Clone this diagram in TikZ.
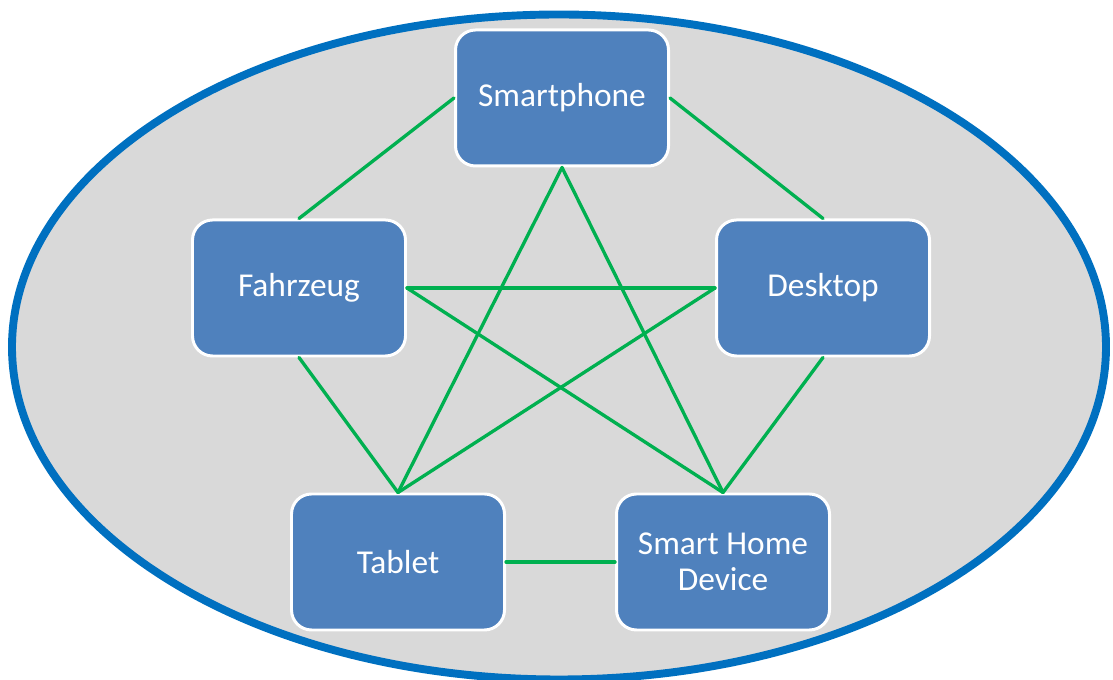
\documentclass[tikz,border=0pt]{standalone}
\usepackage{fontspec}
\setmainfont{Carlito}
\definecolor{ringblue}{HTML}{0070C0}
\definecolor{ringgray}{HTML}{D9D9D9}
\definecolor{boxblue}{HTML}{4F81BD}
\definecolor{linkgreen}{HTML}{00B050}
\begin{document}
\begin{tikzpicture}[x=1cm,y=1cm,line cap=round,line join=round,
  device/.style={draw=white,line width=1.7pt,fill=boxblue,rounded corners=0.4cm,
    minimum width=4.26cm,minimum height=2.72cm,align=center,text=white,
    font=\fontsize{19}{20.5}\selectfont},
  link/.style={linkgreen,line width=1.9pt}]
  \useasboundingbox (0,0) rectangle (22.26,13.6);
  \draw[ringblue,fill=ringgray,line width=4.5pt] (11.18,6.66) ellipse (10.94 and 6.65);
  \node[device] (phone) at (11.24,11.64) {Smartphone};
  \node[device] (car) at (5.98,7.84) {Fahrzeug};
  \node[device] (desk) at (16.46,7.84) {Desktop};
  \node[device] (tab) at (7.96,2.36) {Tablet};
  \node[device] (home) at (14.46,2.36) {Smart Home\\Device};
  \draw[link] (car.north) -- (phone.west);
  \draw[link] (phone.east) -- (desk.north);
  \draw[link] (phone.south) -- (tab.north);
  \draw[link] (phone.south) -- (home.north);
  \draw[link] (car.east) -- (desk.west);
  \draw[link] (car.east) -- (home.north);
  \draw[link] (desk.west) -- (tab.north);
  \draw[link] (car.south) -- (tab.north);
  \draw[link] (desk.south) -- (home.north);
  \draw[link] (tab.east) -- (home.west);
\end{tikzpicture}
\end{document}
